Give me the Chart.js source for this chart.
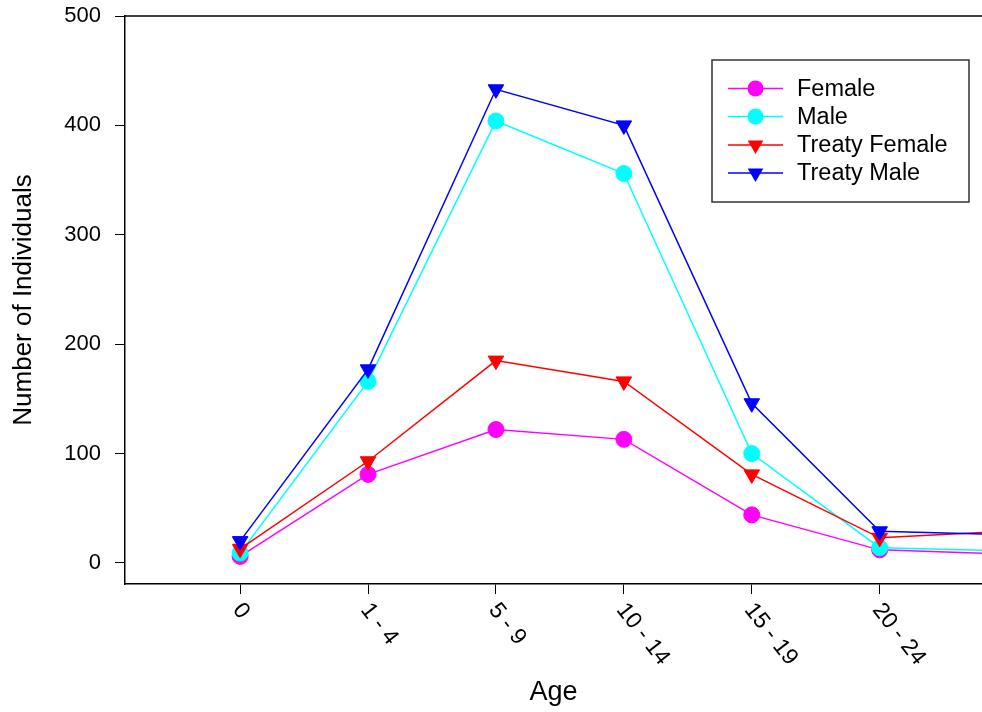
<!DOCTYPE html>
<html><head><meta charset="utf-8">
<script src="https://cdn.jsdelivr.net/npm/chart.js@4/dist/chart.umd.min.js"></script>
<style>html,body{margin:0;padding:0;background:#fff;overflow:hidden}#wrap{width:982px;height:712px}</style>
</head><body><div id="wrap"><canvas id="c" width="982" height="712"></canvas></div>
<script>
const ageGroups = ['0', '1 - 4', '5 - 9', '10 - 14', '15 - 19', '20 - 24', '25 - 29'];
const female = [6, 81, 122, 113, 44, 12, 8];
const male = [9, 166, 404, 356, 100, 14, 11];
const treatyFemale = [13, 93, 185, 166, 81, 23, 29];
const treatyMale = [20, 177, 433, 400, 146, 29, 26];
const yTickValues = [0, 100, 200, 300, 400, 500];
const xTickIndexes = [0, 1, 2, 3, 4, 5];
const seriesNames = ['Female', 'Male', 'Treaty Female', 'Treaty Male'];

const FONT = "'Liberation Sans', Arial, Helvetica, sans-serif";
const toPts = arr => arr.map((v, i) => ({x: i, y: v}));

function ds(label, values, color, style, order) {
  const tri = style === 'triangle';
  return {
    label, data: toPts(values), borderColor: color, backgroundColor: color,
    borderWidth: 1.5, tension: 0, fill: false,
    pointStyle: style, pointRotation: tri ? 180 : 0,
    pointRadius: tri ? 9 : 8, pointHoverRadius: tri ? 9 : 8,
    pointBackgroundColor: color, pointBorderColor: color, pointBorderWidth: 1,
    order
  };
}

const datasets = [
  ds(seriesNames[0], female, '#FF00FF', 'circle', 4),
  ds(seriesNames[1], male, '#00FFFF', 'circle', 3),
  ds(seriesNames[2], treatyFemale, '#FF0000', 'triangle', 2),
  ds(seriesNames[3], treatyMale, '#0000FF', 'triangle', 1)
];

const extras = {
  id: 'extras',
  afterDraw(chart) {
    const ctx = chart.ctx;
    const area = chart.chartArea;
    const xs = chart.scales.x;
    ctx.save();
    // top frame line
    ctx.strokeStyle = '#000'; ctx.lineWidth = 1.5;
    ctx.beginPath(); ctx.moveTo(area.left, area.top); ctx.lineTo(area.right, area.top); ctx.stroke();
    // rotated x tick labels
    ctx.fillStyle = '#000';
    ctx.font = '23px ' + FONT;
    ctx.textAlign = 'left'; ctx.textBaseline = 'middle';
    xTickIndexes.forEach(i => {
      const px = xs.getPixelForValue(i);
      ctx.save();
      ctx.translate(px - 3, area.bottom + 22);
      ctx.rotate(52 * Math.PI / 180);
      ctx.fillText(ageGroups[i], 0, 0);
      ctx.restore();
    });
    // legend
    const bx = 712, by = 60, bw = 257, bh = 142;
    ctx.strokeStyle = '#333'; ctx.lineWidth = 1.5;
    ctx.strokeRect(bx, by, bw, bh);
    const rowY = [88.5, 116.5, 145, 173];
    chart.data.datasets.forEach((d, k) => {
      const y = rowY[k];
      ctx.strokeStyle = d.borderColor; ctx.lineWidth = 1.5;
      ctx.beginPath(); ctx.moveTo(728, y); ctx.lineTo(783, y); ctx.stroke();
      ctx.fillStyle = d.borderColor;
      ctx.beginPath();
      if (d.pointStyle === 'circle') {
        ctx.arc(755.5, y, 8, 0, Math.PI * 2);
      } else {
        const r = 9;
        ctx.moveTo(755.5 - r * 0.866, y - r * 0.5);
        ctx.lineTo(755.5 + r * 0.866, y - r * 0.5);
        ctx.lineTo(755.5, y + r);
        ctx.closePath();
      }
      ctx.fill();
      ctx.fillStyle = '#000';
      ctx.font = '23.5px ' + FONT;
      ctx.textAlign = 'left'; ctx.textBaseline = 'middle';
      ctx.fillText(d.label, 797, y + 1);
    });
    ctx.restore();
  }
};

new Chart(document.getElementById('c'), {
  type: 'line',
  data: { datasets },
  options: {
    responsive: false, animation: false, devicePixelRatio: 1,
    layout: { autoPadding: false, padding: { top: 16, right: 0, bottom: 0, left: 0 } },
    plugins: { legend: { display: false }, tooltip: { enabled: false } },
    scales: {
      x: {
        type: 'linear', min: -0.9, max: 5.8,
        afterBuildTicks: s => { s.ticks = xTickIndexes.map(v => ({value: v})); },
        afterFit: s => { s.height = 128; s.paddingLeft = 0; s.paddingRight = 0; },
        ticks: { display: false },
        grid: { display: true, drawOnChartArea: false, drawTicks: true, tickLength: 10, color: '#000', lineWidth: 1 },
        border: { display: true, color: '#000', width: 1.5 },
        title: { display: true, text: 'Age', color: '#000', font: { family: FONT, size: 27 }, padding: { top: 0, bottom: 3 } }
      },
      y: {
        type: 'linear', min: -19.2, max: 500,
        afterBuildTicks: s => { s.ticks = yTickValues.map(v => ({value: v})); },
        afterFit: s => { s.width = 125; s.paddingTop = 0; s.paddingBottom = 0; },
        ticks: { color: '#000', font: { family: FONT, size: 22 }, padding: 14 },
        grid: { display: true, drawOnChartArea: false, drawTicks: true, tickLength: 10, color: '#000', lineWidth: 1 },
        border: { display: true, color: '#000', width: 1.5 },
        title: { display: true, text: 'Number of Individuals', color: '#000', font: { family: FONT, size: 26 }, padding: { top: 8, bottom: 0 } }
      }
    }
  },
  plugins: [extras]
});
</script>
</body></html>
